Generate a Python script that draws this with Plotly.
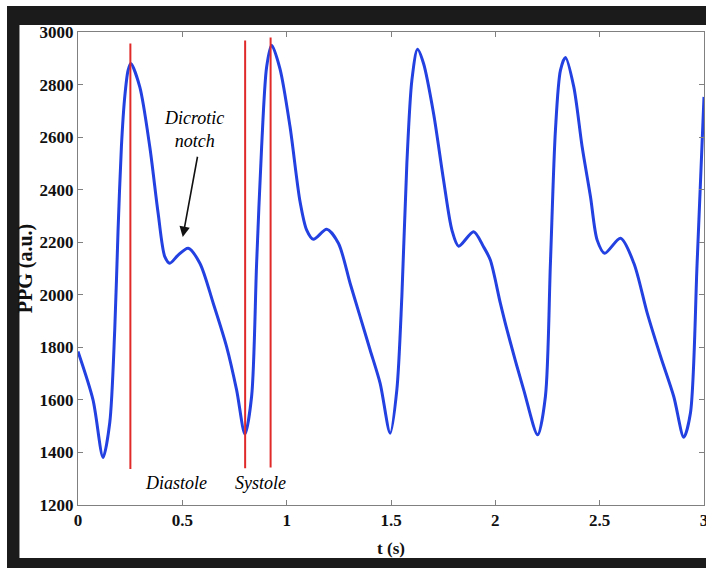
import plotly.graph_objects as go

# PPG signal samples (time in s, amplitude in a.u.)
t_s = [0.000, 0.072, 0.120, 0.152, 0.176, 0.192, 0.208, 0.224, 0.240, 0.253,
       0.296, 0.344, 0.384, 0.416, 0.440, 0.480, 0.528, 0.584, 0.648, 0.712,
       0.760, 0.800, 0.832, 0.856, 0.880, 0.904, 0.928, 0.968, 1.016, 1.064,
       1.096, 1.128, 1.192, 1.248, 1.304, 1.352, 1.400, 1.448, 1.496, 1.528,
       1.552, 1.576, 1.600, 1.627, 1.656, 1.704, 1.752, 1.792, 1.824, 1.896,
       1.944, 1.976, 2.024, 2.056, 2.136, 2.203, 2.240, 2.264, 2.288, 2.312,
       2.336, 2.376, 2.416, 2.456, 2.488, 2.524, 2.600, 2.664, 2.728, 2.792,
       2.855, 2.903, 2.935, 2.967, 3.000]
ppg = [1784, 1600, 1381, 1512, 1866, 2246, 2563, 2753, 2854, 2880,
       2791, 2563, 2310, 2145, 2120, 2151, 2177, 2120, 1968, 1803,
       1638, 1470, 1613, 2120, 2563, 2867, 2950, 2860, 2640, 2355,
       2246, 2211, 2249, 2196, 2044, 1917, 1790, 1663, 1473, 1638,
       1993, 2500, 2816, 2934, 2880, 2690, 2436, 2246, 2185, 2240,
       2182, 2132, 1968, 1866, 1638, 1467, 1613, 2120, 2626, 2854,
       2903, 2791, 2563, 2373, 2208, 2158, 2215, 2120, 1930, 1765,
       1613, 1458, 1550, 2120, 2753]

# Red vertical marker lines
marker_t = [0.251, 0.801, 0.923]
marker_top = [2956, 2968, 2979]
marker_bottom = [1337, 1340, 1343]

# Axis ticks
x_ticks = [0, 0.5, 1, 1.5, 2, 2.5, 3]
x_tick_labels = ["0", "0.5", "1", "1.5", "2", "2.5", "3"]
y_ticks = [1200, 1400, 1600, 1800, 2000, 2200, 2400, 2600, 2800, 3000]
y_tick_labels = [str(v) for v in y_ticks]

# Text labels
phase_labels = ["Diastole", "Systole"]
phase_t = [0.469, 0.874]
phase_y = [1285, 1285]
notch_text = "Dicrotic<br>notch"
notch_text_pos = (0.556, 2630)
notch_arrow_head = (0.502, 2220)
notch_arrow_tail = (0.574, 2531)

SERIF = "Liberation Serif"

fig = go.Figure()

fig.add_trace(go.Scatter(
    x=t_s, y=ppg, mode="lines",
    line=dict(color="#2340e0", width=3, shape="spline", smoothing=0.8),
    showlegend=False, hoverinfo="skip",
))

mx, my = [], []
for t, lo, hi in zip(marker_t, marker_bottom, marker_top):
    mx += [t, t, None]
    my += [lo, hi, None]
fig.add_trace(go.Scatter(
    x=mx, y=my, mode="lines",
    line=dict(color="#e02a2a", width=2),
    showlegend=False, hoverinfo="skip",
))

annotations = []
for txt, tx, ty in zip(phase_labels, phase_t, phase_y):
    annotations.append(dict(
        x=tx, y=ty, xref="x", yref="y", text=txt, showarrow=False,
        font=dict(family=SERIF, size=18, color="#000000", style="italic"),
    ))
annotations.append(dict(
    x=notch_text_pos[0], y=notch_text_pos[1], xref="x", yref="y",
    text=notch_text, showarrow=False,
    font=dict(family=SERIF, size=18, color="#000000", style="italic"),
))
annotations.append(dict(
    x=notch_arrow_head[0], y=notch_arrow_head[1], xref="x", yref="y",
    ax=notch_arrow_tail[0], ay=notch_arrow_tail[1], axref="x", ayref="y",
    text="", showarrow=True, arrowhead=2, arrowsize=1.3, arrowwidth=1.6,
    arrowcolor="#111111",
))

# Framing: dark border band with white inner panel
shapes = [
    dict(type="rect", xref="paper", yref="paper", layer="below",
         x0=-0.1134, x1=1.05, y0=-0.20, y1=1.055,
         fillcolor="#1b1b1b", line=dict(width=0)),
    dict(type="rect", xref="paper", yref="paper", layer="below",
         x0=-0.0935, x1=1.05, y0=-0.1121, y1=1.0148,
         fillcolor="#ffffff", line=dict(width=0)),
]

axis_common = dict(
    showgrid=False, zeroline=False, showline=True, linecolor="#808080",
    linewidth=1, mirror="ticks", ticks="inside", ticklen=5,
    tickcolor="#808080", tickwidth=1, automargin=False,
    tickfont=dict(family=SERIF, size=17, color="#111111", weight="bold"),
)

fig.update_layout(
    width=706, height=568,
    margin=dict(l=78, r=2, t=32, b=63),
    paper_bgcolor="#ffffff", plot_bgcolor="#ffffff",
    xaxis=dict(range=[0, 3], tickvals=x_ticks, ticktext=x_tick_labels,
               ticklabeloverflow="allow",
               title=dict(text="t (s)", standoff=12,
                          font=dict(family=SERIF, size=17, color="#111111", weight="bold")),
               **axis_common),
    yaxis=dict(range=[1200, 3000], tickvals=y_ticks, ticktext=y_tick_labels,
               title=dict(text="PPG (a.u.)", standoff=1,
                          font=dict(family=SERIF, size=20, color="#111111", weight="bold")),
               **axis_common),
    annotations=annotations,
    shapes=shapes,
)

fig.write_html(
    "out.html",
    config={"displayModeBar": False},
    post_script="document.body.style.margin='0';document.body.style.overflow='hidden';",
)
